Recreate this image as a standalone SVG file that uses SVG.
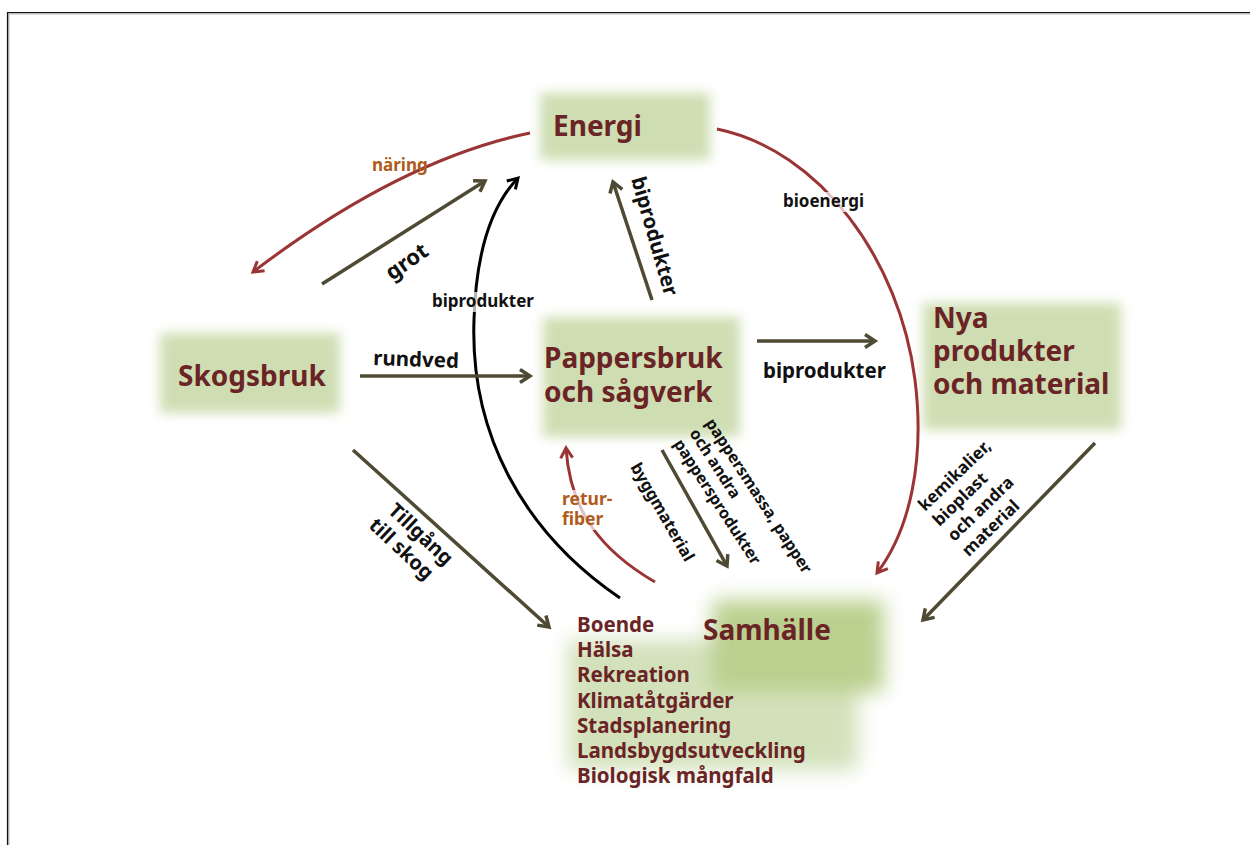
<svg xmlns="http://www.w3.org/2000/svg" width="1250" height="845" viewBox="0 0 1250 845">
<style>
.node{font-family:"Noto Sans","Open Sans",sans-serif;font-weight:bold;font-size:28px;fill:#6b2426}
.item{font-family:"Noto Sans","Open Sans",sans-serif;font-weight:bold;font-size:20.5px;fill:#6b2426}
.lbl{font-family:"Noto Sans","Open Sans",sans-serif;font-weight:bold;fill:#111}
.org{font-family:"Noto Sans","Open Sans",sans-serif;font-weight:bold;fill:#b05a1c}
.box{fill:#cfdeb2;filter:url(#soft)}
.ol{fill:none;stroke:#4f4a33;stroke-width:3.5}
.rd{fill:none;stroke:#9b3535;stroke-width:3}
.bk{fill:none;stroke:#000;stroke-width:3}
.bg{fill:#fff;opacity:0.7}
</style>
<defs>
<filter id="soft" x="-30%" y="-40%" width="160%" height="180%"><feGaussianBlur stdDeviation="6"/></filter>
<filter id="soft2" x="-30%" y="-40%" width="160%" height="180%"><feGaussianBlur stdDeviation="10"/></filter>
<marker id="aol" markerUnits="userSpaceOnUse" markerWidth="16" markerHeight="16" refX="12" refY="8" orient="auto"><path d="M2,1.5 L12,8 L2,14.5" fill="none" stroke="#4f4a33" stroke-width="3.5"/></marker>
<marker id="ard" markerUnits="userSpaceOnUse" markerWidth="16" markerHeight="16" refX="12" refY="8" orient="auto"><path d="M2,2 L12,8 L2,14" fill="none" stroke="#9b3535" stroke-width="3"/></marker>
<marker id="abk" markerUnits="userSpaceOnUse" markerWidth="16" markerHeight="16" refX="12" refY="8" orient="auto"><path d="M2,2 L12,8 L2,14" fill="none" stroke="#000" stroke-width="3"/></marker>
</defs>
<rect width="1250" height="845" fill="#fff"/>
<g id="frame">
<path d="M8.5,845 V13.5 H1250" fill="none" stroke="#bbb" stroke-width="2"/>
<path d="M7.5,845 V12.5 H1250" fill="none" stroke="#111" stroke-width="1.2"/>
</g>
<g id="node-energi">
<rect class="box" x="540" y="93" width="170" height="67"/>
<text class="node" x="553" y="136">Energi</text>
</g>
<g id="node-skogsbruk">
<rect class="box" x="160" y="333" width="180" height="80"/>
<text class="node" x="178" y="386">Skogsbruk</text>
</g>
<g id="node-pappersbruk">
<rect class="box" x="543" y="317" width="197" height="120"/>
<text class="node" x="544" y="368">Pappersbruk</text>
<text class="node" x="544" y="402">och sågverk</text>
</g>
<g id="node-nya">
<rect class="box" x="923" y="303" width="198" height="127"/>
<text class="node" x="933" y="328">Nya</text>
<text class="node" x="933" y="361">produkter</text>
<text class="node" x="933" y="394">och material</text>
</g>
<g id="node-samhalle">
<rect x="568" y="640" width="290" height="130" fill="#d3e1bb" filter="url(#soft2)"/>
<rect x="712" y="600" width="172" height="92" fill="#bad08f" filter="url(#soft2)"/>
<text class="node" x="703" y="640">Samhälle</text>
<text class="item" x="577" y="632">Boende</text>
<text class="item" x="577" y="657">Hälsa</text>
<text class="item" x="577" y="682">Rekreation</text>
<text class="item" x="577" y="708">Klimatåtgärder</text>
<text class="item" x="577" y="733">Stadsplanering</text>
<text class="item" x="577" y="758">Landsbygdsutveckling</text>
<text class="item" x="577" y="783">Biologisk mångfald</text>
</g>
<g id="connectors">
<path class="rd" d="M530,133 Q400,160 253,272" marker-end="url(#ard)"/>
<path class="ol" d="M322,284 L485,181" marker-end="url(#aol)"/>
<path class="bk" d="M620,598 C520,530 470,430 474,320 C476,250 492,205 518,178" marker-end="url(#abk)"/>
<path class="ol" d="M652,300 L613,182" marker-end="url(#aol)"/>
<path class="rd" d="M717,129 C820,150 900,260 915,380 C925,460 910,530 877,573" marker-end="url(#ard)"/>
<path class="ol" d="M360,376 L530,376" marker-end="url(#aol)"/>
<path class="ol" d="M757,341 L875,341" marker-end="url(#aol)"/>
<path class="rd" d="M655,582 C600,550 570,510 566,448" marker-end="url(#ard)"/>
<path class="ol" d="M662,450 L727,566" marker-end="url(#aol)"/>
<path class="ol" d="M353,450 L549,627" marker-end="url(#aol)"/>
<path class="ol" d="M1095,443 L923,620" marker-end="url(#aol)"/>
</g>
<g id="labels">
<text class="org" x="372" y="171" font-size="17">näring</text>
<text class="lbl" font-size="22" transform="translate(392,281) rotate(-35)">grot</text>
<rect class="bg" x="430" y="292" width="106" height="20"/>
<text class="lbl" x="432" y="307" font-size="17">biprodukter</text>
<text class="lbl" font-size="20.5" transform="translate(631,179) rotate(74)">biprodukter</text>
<rect class="bg" x="781" y="192" width="84" height="20"/>
<text class="lbl" x="783" y="207" font-size="17">bioenergi</text>
<text class="lbl" font-size="20.5" transform="translate(373,365) rotate(2)">rundved</text>
<text class="lbl" x="763" y="378" font-size="20.5">biprodukter</text>
<rect class="bg" x="560" y="490" width="54" height="40"/>
<text class="org" font-size="17.5"><tspan x="562" y="505">retur-</tspan><tspan x="562" y="525">fiber</tspan></text>
<text class="lbl" font-size="16.5" transform="translate(630,467) rotate(60)">byggmaterial</text>
<text class="lbl" font-size="16" transform="translate(705,423) rotate(57)"><tspan x="0" y="0">pappersmassa, papper</tspan><tspan x="0" y="19">och andra</tspan><tspan x="0" y="38">pappersprodukter</tspan></text>
<text class="lbl" font-size="20" transform="translate(387,512) rotate(43)"><tspan x="0" y="0">Tillgång</tspan><tspan x="-4" y="24">till skog</tspan></text>
<text class="lbl" font-size="17" transform="translate(925,512) rotate(-44)"><tspan x="0" y="0">kemikalier,</tspan><tspan x="0" y="21">bioplast</tspan><tspan x="0" y="42">och andra</tspan><tspan x="0" y="63">material</tspan></text>
</g>
</svg>
